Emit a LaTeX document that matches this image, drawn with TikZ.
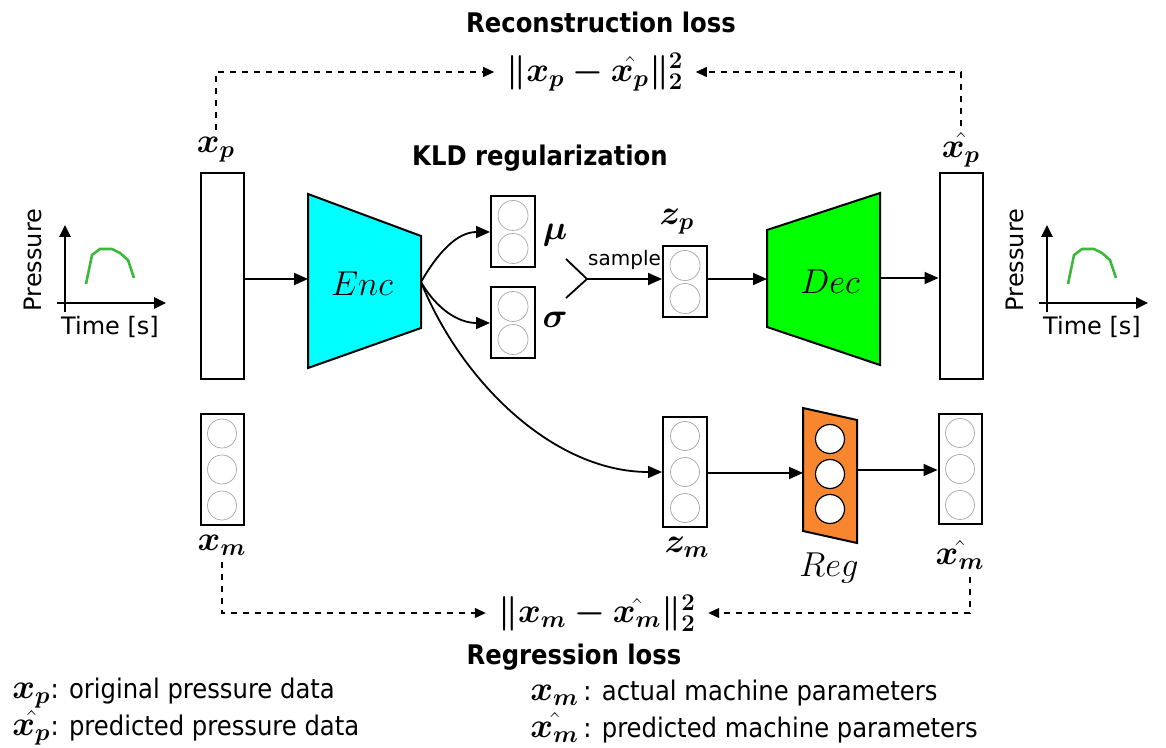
\documentclass[tikz,border=0pt]{standalone}
\usepackage{amsmath}
\usepackage{bm}
\usepackage{fontspec}
\newfontfamily\condfont{DejaVu Sans Condensed}
\newfontfamily\plainsans{DejaVu Sans}
\usetikzlibrary{arrows.meta}
\definecolor{enccyan}{RGB}{0,255,255}
\definecolor{decgreen}{RGB}{0,255,0}
\definecolor{regorange}{RGB}{247,134,47}
\definecolor{curvegreen}{RGB}{60,185,60}
\newcommand{\mlab}[1]{{\fontsize{17}{20}\selectfont$\bm{#1}$}}
\tikzset{
  vecbox/.style={draw, line width=1pt, fill=white, minimum width=21.5pt, inner sep=0pt},
  neuron/.style={draw=gray!70, line width=0.35pt},
  flow/.style={-{Triangle[length=7pt,width=6pt]}, line width=0.9pt},
  lossline/.style={dashed, line width=0.6pt, -{Triangle[length=5.5pt,width=5pt]}},
  axisarrow/.style={-{Triangle[length=6pt,width=5.5pt]}, line width=1.3pt},
  titletext/.style={font=\fontsize{13.5}{16}\selectfont\condfont\bfseries},
  legendtext/.style={font=\fontsize{13.5}{16}\selectfont\condfont, anchor=west, inner sep=0pt},
  axislbl/.style={font=\fontsize{12}{14}\selectfont\plainsans, inner sep=0pt},
}
\begin{document}
\begin{tikzpicture}[x=0.5pt, y=-0.5pt]
\useasboundingbox (0,0) rectangle (1166,748);

  % Pressure curves (input and output)
  \foreach \ox in {0,982} {
  \begin{scope}[shift={(\ox,0)}]
    \draw[axisarrow] (65,312) -- (65,225);
    \draw[axisarrow] (57,303) -- (166,303);
    \draw[curvegreen, line width=1.3pt] (86,284) -- (92,255) -- (100,249) -- (112,249)
      -- (120,253) -- (128,260) -- (134,278);
    \node[axislbl, rotate=90] at (33,260) {Pressure};
    \node[axislbl] at (110,327) {Time [s]};
  \end{scope}
  }

  % Input / output vectors
  \node[vecbox, minimum height=103pt] (xp) at (222,276) {};
  \node[vecbox, minimum height=103pt] (xph) at (961,276) {};
  \node (xpl) at (216,150) {\mlab{x_p}};
  \node (xphl) at (961,150) {\mlab{\hat{x_p}}};

  % Encoder
  \draw[fill=enccyan, line width=1pt] (308,194) -- (421,236) -- (421,328) -- (308,368) -- cycle;
  \coordinate (enc-in) at (308,279);
  \coordinate (enc-out) at (421,282);
  \node (enc) at (362,284) {\fontsize{16}{18}\selectfont$Enc$};

  % Latent layers
  \node[vecbox, minimum width=22pt, minimum height=35.5pt] (mu) at (513,232) {};
  \node[vecbox, minimum width=22pt, minimum height=35.5pt] (sigma) at (513,323) {};
  \node[vecbox, minimum width=22pt, minimum height=35.5pt] (zp) at (685,282) {};
  \foreach \n in {mu,sigma,zp}
    \foreach \dy in {-8.25,8.25}
      \draw[neuron] ([yshift=\dy pt]\n.center) circle (7.5pt);
  \node (mul) at (555,235) {\mlab{\mu}};
  \node (sigmal) at (555,320) {\mlab{\sigma}};
  \node (zpl) at (677,222) {\mlab{z_p}};

  \node[vecbox, minimum height=55.5pt] (xm) at (222,469.5) {};
  \node[vecbox, minimum width=22pt, minimum height=55pt] (zm) at (685,472) {};
  \node[vecbox, minimum height=55pt] (xmh) at (960,469) {};
  \foreach \n in {xm,zm,xmh}
    \foreach \dy in {-18,0,18}
      \draw[neuron] ([yshift=\dy pt]\n.center) circle (7.25pt);
  \node (xml) at (222,545) {\mlab{x_m}};
  \node (zml) at (687,547) {\mlab{z_m}};
  \node (xmhl) at (960,555) {\mlab{\hat{x_m}}};

  % Decoder
  \draw[fill=decgreen, line width=1pt] (767,230) -- (880,193) -- (880,365) -- (767,327) -- cycle;
  \coordinate (dec-in) at (767,279);
  \coordinate (dec-out) at (880,278);
  \node (dec) at (830,282) {\fontsize{16}{18}\selectfont$Dec$};

  % Regressor
  \draw[fill=regorange, line width=1pt] (803,408) -- (857,420) -- (857,543) -- (803,531) -- cycle;
  \foreach \y in {439,474,509}
    \draw[fill=white, line width=0.6pt] (830,\y) circle (7.25pt);
  \coordinate (reg-in) at (803,473);
  \coordinate (reg-out) at (857,470);
  \node (reg) at (829,568) {\fontsize{16}{18}\selectfont$Reg$};

  % Sampling
  \coordinate (mu-tap) at (566,259);
  \coordinate (sigma-tap) at (566,298);
  \coordinate (merge) at (587,279);

  % Connections
  \draw[flow] (xp.east |- enc-in) -- (enc-in);
  \draw[flow] (enc-out) to[out=60, in=180] (mu.west);
  \draw[flow] (enc-out) to[out=-60, in=180] (sigma.west);
  \draw[flow] (enc-out) to[out=-68, in=180, looseness=0.9] (zm.west);
  \draw[line width=0.9pt] (mu-tap) -- (merge) -- (sigma-tap);
  \draw[flow] (merge) -- (merge -| zp.west)
    node[midway, above=1pt, font=\fontsize{10}{12}\selectfont\plainsans] {sample};
  \draw[flow] (zp.east |- dec-in) -- (dec-in);
  \draw[flow] (dec-out) -- (xph.west |- dec-out);
  \draw[flow] (zm.east |- reg-in) -- (reg-in);
  \draw[flow] (reg-out) -- (xmh.west |- reg-out);

  % Losses
  \node[titletext] (rtitle) at (601,22) {Reconstruction loss};
  \node[inner sep=6pt] (rnorm) at (595,72) {\fontsize{17}{20}\selectfont$\bm{\|x_p - \hat{x_p}\|_2^2}$};
  \node[titletext] (ktitle) at (540,158) {KLD regularization};
  \node[inner sep=6pt] (gnorm) at (597,613) {\fontsize{17}{20}\selectfont$\bm{\|x_m - \hat{x_m}\|_2^2}$};
  \node[titletext] (gtitle) at (574,657) {Regression loss};
  \draw[lossline] (xpl.north) |- (rnorm.west);
  \draw[lossline] (xphl.north) |- (rnorm.east);
  \draw[lossline] (xml.south) |- (gnorm.west);
  \draw[lossline] ([xshift=5pt]xmhl.south) |- (gnorm.east);

  % Legend
  \node[legendtext] (leg1) at (12,693) {\mlab{x_p}: original pressure data};
  \node[legendtext] (leg2) at (12,728) {\mlab{\hat{x_p}}: predicted pressure data};
  \node[legendtext] (leg3) at (530,693) {\mlab{x_m}\,: actual machine parameters};
  \node[legendtext] (leg4) at (530,728) {\mlab{\hat{x_m}}\,: predicted machine parameters};
\end{tikzpicture}
\end{document}
